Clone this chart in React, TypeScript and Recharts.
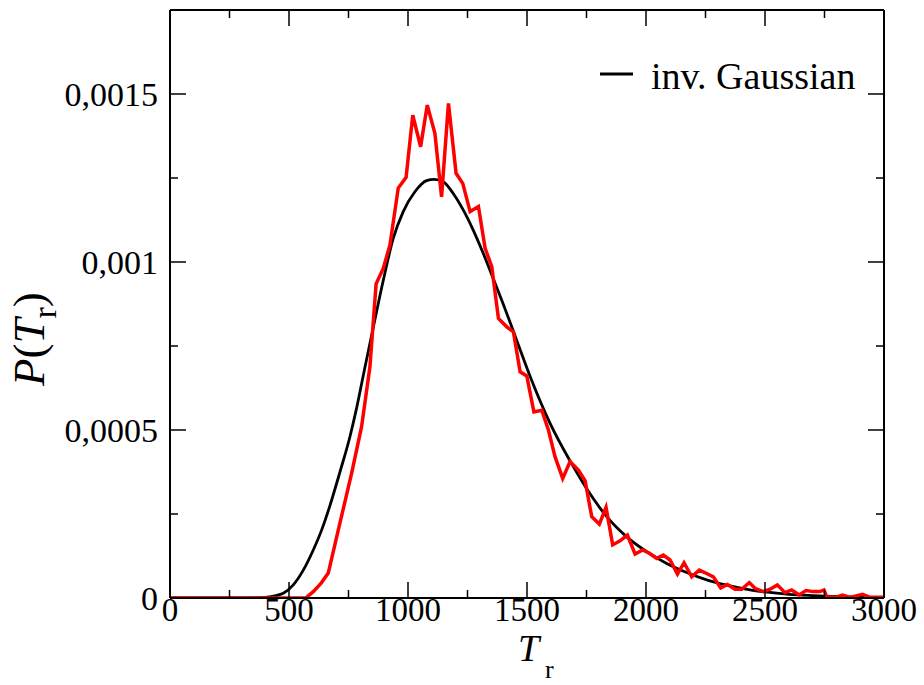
import React from "react";
import { LineChart, Line, XAxis, YAxis } from "recharts";

// simulation histogram (red)
const simT = [
  0, 150, 300, 450, 570, 602, 636, 665, 707, 763, 805, 840, 866, 896, 924, 959, 992, 1020, 1053, 1081,
  1113, 1141, 1170, 1202, 1230, 1261, 1296, 1324, 1352, 1380, 1415, 1443, 1471, 1499, 1529, 1562, 1590,
  1618, 1650, 1681, 1716, 1744, 1772, 1804, 1832, 1860, 1891, 1922, 1954, 1986, 2014, 2045, 2073, 2101,
  2132, 2160, 2192, 2224, 2255, 2283, 2314, 2342, 2374, 2402, 2434, 2458, 2493, 2521, 2552, 2584, 2612,
  2644, 2672, 2703, 2731, 2748, 2759, 2794, 2826, 2857, 2910, 2941, 3000,
];
const simP = [
  0, 0, 0, 0, 0, 0.000019, 0.000045, 0.000074, 0.000202, 0.000371, 0.00051, 0.000688, 0.000935, 0.000981,
  0.00105, 0.00122, 0.001252, 0.001437, 0.001343, 0.001467, 0.001383, 0.001194, 0.001472, 0.001264,
  0.001234, 0.00115, 0.001165, 0.001041, 0.000986, 0.000832, 0.000807, 0.000792, 0.000673, 0.000661,
  0.000554, 0.000559, 0.0005, 0.00042, 0.000356, 0.000406, 0.000381, 0.000349, 0.000242, 0.00022, 0.00027,
  0.000158, 0.00017, 0.000187, 0.000131, 0.000143, 0.000133, 0.000118, 0.000128, 0.000113, 0.000071,
  0.000105, 0.000063, 0.000083, 0.000073, 0.000063, 0.00003, 0.00004, 0.000026, 0.000026, 0.000046,
  0.000029, 0.000019, 0.000026, 0.000039, 0.000016, 0.000024, 0.000009, 0.000022, 0.000019, 0.000019,
  0.000024, 0.000004, 0.000002, 0.000009, 0.000002, 0.000011, 0.000002, 0.000002,
];

// inverse gaussian fit (black)
const fitT = [
  0, 300, 400, 450, 476, 518, 560, 602, 637, 672, 714, 756, 784, 820, 854, 896, 938, 980, 1029, 1078, 1110,
  1148, 1190, 1232, 1274, 1316, 1358, 1400, 1450, 1519, 1597, 1681, 1751, 1835, 1919, 2003, 2087, 2171,
  2255, 2339, 2437, 2500, 2600, 2703, 2850, 3000,
];
const fitP = [
  0, 0, 0.000002, 0.000008, 0.000014, 0.000039, 0.000083, 0.000143, 0.000202, 0.000275, 0.000375, 0.00048,
  0.000565, 0.00069, 0.000805, 0.000945, 0.00107, 0.00115, 0.001209, 0.001242, 0.001246, 0.001239, 0.001204,
  0.001155, 0.001095, 0.001026, 0.000951, 0.000875, 0.00078, 0.000649, 0.00052, 0.000408, 0.000325,
  0.000242, 0.000182, 0.000138, 0.000103, 0.000076, 0.000054, 0.000038, 0.000024, 0.000018, 0.000011,
  0.000007, 0.000003, 0.000001,
];

const xTicks = [0, 250, 500, 750, 1000, 1250, 1500, 1750, 2000, 2250, 2500, 2750, 3000];
const yTicks = [0, 0.00025, 0.0005, 0.00075, 0.001, 0.00125, 0.0015];

const simData = simT.map((t, i) => ({ t, p: simP[i] }));
const fitData = fitT.map((t, i) => ({ t, p: fitP[i] }));

const FONT = '"Liberation Serif", "Times New Roman", serif';
const isMajorX = (v: number) => v % 500 === 0;
const isMajorY = (v: number) => Math.round(v / 0.00025) % 2 === 0;
const fmtY = (v: number) => (v === 0 ? "0" : String(v).replace(".", ","));

const BottomTick = (props: any) => {
  const { x, y, payload } = props;
  const major = isMajorX(payload.value);
  return (
    <g>
      <line x1={x} y1={y} x2={x} y2={y - (major ? 16 : 8)} stroke="#000" strokeWidth={1.5} />
      {major && (
        <text x={x} y={y + 23} textAnchor="middle" fontSize={33} fontFamily={FONT} fill="#000">
          {payload.value}
        </text>
      )}
    </g>
  );
};

const TopTick = (props: any) => {
  const { x, y, payload } = props;
  const major = isMajorX(payload.value);
  return <line x1={x} y1={y} x2={x} y2={y + (major ? 16 : 8)} stroke="#000" strokeWidth={1.5} />;
};

const LeftTick = (props: any) => {
  const { x, y, payload } = props;
  const major = isMajorY(payload.value);
  return (
    <g>
      <line x1={x} y1={y} x2={x + (major ? 16 : 8)} y2={y} stroke="#000" strokeWidth={1.5} />
      {major && (
        <text x={x - 12} y={y + 12} textAnchor="end" fontSize={34} fontFamily={FONT} fill="#000">
          {fmtY(payload.value)}
        </text>
      )}
    </g>
  );
};

const RightTick = (props: any) => {
  const { x, y, payload } = props;
  const major = isMajorY(payload.value);
  return <line x1={x} y1={y} x2={x - (major ? 16 : 8)} y2={y} stroke="#000" strokeWidth={1.5} />;
};

const axisLine = { stroke: "#000", strokeWidth: 2 };

export default function App() {
  return (
    <div style={{ position: "absolute", left: 0, top: 0, width: 924, height: 685, background: "#fff" }}>
      <LineChart width={924} height={685} margin={{ top: 0, right: 0, bottom: 0, left: 0 }}>
        <XAxis
          dataKey="t"
          type="number"
          domain={[0, 3000]}
          ticks={xTicks}
          height={87}
          tickSize={0}
          tickMargin={0}
          tickLine={false}
          axisLine={axisLine}
          tick={BottomTick}
          allowDataOverflow
        />
        <XAxis
          xAxisId="top"
          orientation="top"
          dataKey="t"
          type="number"
          domain={[0, 3000]}
          ticks={xTicks}
          height={10}
          tickSize={0}
          tickMargin={0}
          tickLine={false}
          axisLine={axisLine}
          tick={TopTick}
          allowDataOverflow
        />
        <YAxis
          type="number"
          domain={[0, 0.00175]}
          ticks={yTicks}
          width={170}
          tickSize={0}
          tickMargin={0}
          tickLine={false}
          axisLine={axisLine}
          tick={LeftTick}
          allowDataOverflow
        />
        <YAxis
          yAxisId="right"
          orientation="right"
          type="number"
          domain={[0, 0.00175]}
          ticks={yTicks}
          width={40}
          tickSize={0}
          tickMargin={0}
          tickLine={false}
          axisLine={axisLine}
          tick={RightTick}
          allowDataOverflow
        />
        <Line
          data={fitData}
          dataKey="p"
          name="inv. Gaussian"
          type="monotone"
          stroke="#000"
          strokeWidth={2.8}
          dot={false}
          isAnimationActive={false}
        />
        <Line
          data={simData}
          dataKey="p"
          name="sim"
          type="linear"
          stroke="#ff0000"
          strokeWidth={3.5}
          dot={false}
          isAnimationActive={false}
        />
      </LineChart>
      <svg
        width={924}
        height={685}
        style={{ position: "absolute", left: 0, top: 0, pointerEvents: "none" }}
      >
        {/* legend */}
        <line x1={600} y1={74} x2={633} y2={74} stroke="#000" strokeWidth={2.8} />
        <text x={651} y={89} fontSize={38} fontFamily={FONT} fill="#000">
          inv. Gaussian
        </text>
        {/* axis titles */}
        <text x={518} y={661} fontSize={38} fontFamily={FONT} fontStyle="italic" fill="#000">
          T
        </text>
        <text x={545} y={678} fontSize={26} fontFamily={FONT} fill="#000">
          r
        </text>
        <text transform="translate(44, 386) rotate(-90)" fontSize={45} fontFamily={FONT} fill="#000">
          <tspan fontStyle="italic">P</tspan>
          <tspan>(</tspan>
          <tspan fontStyle="italic">T</tspan>
          <tspan fontSize={34} dy={12}>r</tspan>
          <tspan dy={-12}>)</tspan>
        </text>
      </svg>
    </div>
  );
}
